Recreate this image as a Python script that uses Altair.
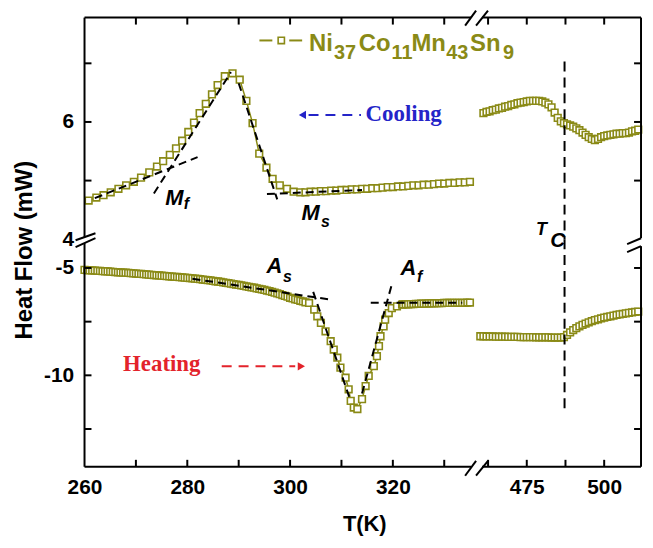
import altair as alt
import pandas as pd

# ---------------- data ----------------
# Cooling curve, low-temperature part (top-left panel)
cool_T_left = [260.8, 262.3, 263.7, 265.1, 266.6, 268.1, 269.6, 271.0, 272.6, 274.1,
               275.3, 276.6, 277.8, 279.0, 280.2, 281.3, 282.4, 283.6, 284.8, 285.9,
               287.3, 288.8, 290.2, 291.5, 292.7, 294.0, 295.4, 296.6, 298.0, 299.4,
               300.7, 302.0, 303.0, 304.0, 305.0, 306.0, 307.0, 308.0, 309.0, 310.0,
               311.0, 312.0, 313.0, 314.0, 315.0, 316.0, 317.0, 318.0, 319.0, 320.0,
               321.0, 322.0, 323.0, 324.0, 325.0, 326.0, 327.0, 328.0, 329.0, 330.0,
               331.0, 332.0, 333.0, 334.0, 335.0]
cool_HF_left = [4.66, 4.71, 4.75, 4.80, 4.86, 4.92, 4.98, 5.05, 5.14, 5.24,
                5.33, 5.44, 5.55, 5.68, 5.83, 5.99, 6.15, 6.31, 6.47, 6.63,
                6.78, 6.83, 6.72, 6.36, 5.98, 5.46, 5.22, 5.03, 4.92, 4.86,
                4.81, 4.80, 4.80, 4.81, 4.81, 4.82, 4.82, 4.83, 4.83, 4.84,
                4.84, 4.85, 4.85, 4.86, 4.86, 4.87, 4.87, 4.88, 4.89, 4.89,
                4.90, 4.90, 4.91, 4.92, 4.92, 4.93, 4.93, 4.94, 4.95, 4.95,
                4.96, 4.96, 4.97, 4.97, 4.98]

# Heating curve, low-temperature part (bottom-left panel)
heat_T_left = [260.0, 260.5, 261.0, 261.5, 262.0, 262.5, 263.0, 263.5, 264.0, 264.5,
               265.0, 265.5, 266.0, 266.5, 267.0, 267.5, 268.0, 268.5, 269.0, 269.5,
               270.0, 270.5, 271.0, 271.5, 272.0, 272.5, 273.0, 273.5, 274.0, 274.5,
               275.0, 275.5, 276.0, 276.5, 277.0, 277.5, 278.0, 278.5, 279.0, 279.5,
               280.0, 280.5, 281.0, 281.5, 282.0, 282.5, 283.0, 283.5, 284.0, 284.5,
               285.0, 285.5, 286.0, 286.5, 287.0, 287.5, 288.0, 288.5, 289.0, 289.5,
               290.0, 290.5, 291.0, 291.5, 292.0, 292.5, 293.0, 293.5, 294.0, 294.5,
               295.0, 295.5, 296.0, 296.5, 297.0, 297.5, 298.0, 298.5, 299.0, 299.5,
               300.0, 300.5, 301.0, 301.5, 302.0, 302.5, 303.0,
               303.7, 304.7, 305.3, 306.0, 306.9, 307.9, 308.5, 309.2, 309.8, 310.8,
               311.4, 311.8, 312.4, 313.1, 314.0, 314.7, 315.3, 316.3, 316.9, 317.3,
               317.6, 318.2, 318.5, 319.2, 319.8, 320.8, 321.8,
               322.0, 322.5, 323.0, 323.5, 324.0, 324.5, 325.0, 325.5, 326.0, 326.5,
               327.0, 327.5, 328.0, 328.5, 329.0, 329.5, 330.0, 330.5, 331.0, 331.5,
               332.0, 332.5, 333.0, 333.5, 334.0, 334.5, 335.0]
heat_HF_left = [-5.09, -5.10, -5.11, -5.11, -5.12, -5.13, -5.14, -5.15, -5.16, -5.16,
                -5.17, -5.18, -5.19, -5.20, -5.21, -5.22, -5.22, -5.23, -5.24, -5.25,
                -5.26, -5.27, -5.28, -5.29, -5.30, -5.31, -5.32, -5.33, -5.34, -5.35,
                -5.36, -5.37, -5.38, -5.39, -5.40, -5.41, -5.42, -5.43, -5.44, -5.45,
                -5.46, -5.47, -5.48, -5.50, -5.51, -5.52, -5.54, -5.55, -5.57, -5.58,
                -5.60, -5.62, -5.63, -5.65, -5.67, -5.69, -5.71, -5.73, -5.75, -5.77,
                -5.79, -5.81, -5.83, -5.86, -5.88, -5.90, -5.92, -5.95, -5.97, -6.00,
                -6.02, -6.05, -6.08, -6.11, -6.15, -6.18, -6.22, -6.26, -6.30, -6.34,
                -6.39, -6.42, -6.46, -6.49, -6.53, -6.56, -6.60,
                -6.63, -6.94, -7.25, -7.56, -7.95, -8.41, -8.80, -9.18, -9.64, -10.11,
                -10.65, -11.19, -11.50, -11.57, -11.11, -10.50, -10.03, -9.57, -9.11, -8.64,
                -8.18, -7.72, -7.41, -7.10, -6.87, -6.79, -6.71,
                -6.70, -6.69, -6.69, -6.68, -6.68, -6.67, -6.67, -6.66, -6.66, -6.66,
                -6.65, -6.65, -6.65, -6.64, -6.64, -6.64, -6.63, -6.63, -6.63, -6.63,
                -6.62, -6.62, -6.62, -6.62, -6.62, -6.61, -6.61]

# Cooling curve near T_C (top-right panel)
cool_T_right = [461, 462, 463, 464, 465, 466, 467, 468, 469, 470,
                471, 472, 473, 474, 475, 476, 477, 478, 479, 480,
                481, 482, 483, 484, 485, 486, 487, 488, 489, 490,
                491, 492, 493, 494, 495, 496, 497, 498, 499, 500,
                501, 502, 503, 504, 505, 506, 507, 508, 509, 510, 511]
cool_HF_right = [6.15, 6.17, 6.18, 6.20, 6.21, 6.23, 6.24, 6.26, 6.27, 6.29,
                 6.30, 6.32, 6.33, 6.34, 6.35, 6.36, 6.36, 6.36, 6.36, 6.35,
                 6.33, 6.30, 6.25, 6.16, 6.07, 6.01, 5.98, 5.96, 5.94, 5.92,
                 5.89, 5.86, 5.82, 5.78, 5.74, 5.71, 5.69, 5.71, 5.74, 5.76,
                 5.77, 5.78, 5.79, 5.80, 5.80, 5.81, 5.81, 5.82, 5.84, 5.85, 5.87]

# Heating curve near T_C (bottom-right panel)
heat_T_right = [460, 461, 462, 463, 464, 465, 466, 467, 468, 469,
                470, 471, 472, 473, 474, 475, 476, 477, 478, 479,
                480, 481, 482, 483, 484, 485, 486, 487, 488, 489,
                490, 491, 492, 493, 494, 495, 496, 497, 498, 499,
                500, 501, 502, 503, 504, 505, 506, 507, 508, 509, 510, 511]
heat_HF_right = [-8.18, -8.18, -8.19, -8.19, -8.19, -8.20, -8.20, -8.20, -8.20, -8.21,
                 -8.21, -8.21, -8.21, -8.22, -8.22, -8.22, -8.22, -8.22, -8.23, -8.23,
                 -8.23, -8.23, -8.23, -8.24, -8.24, -8.24, -8.24, -8.22, -8.12, -8.00,
                 -7.89, -7.80, -7.72, -7.65, -7.59, -7.53, -7.48, -7.43, -7.39, -7.35,
                 -7.31, -7.28, -7.25, -7.22, -7.19, -7.16, -7.14, -7.11, -7.09, -7.07,
                 -7.05, -7.03]

# Tangent construction lines (dashed, black)
tan_cool_seg = ["Mf_base", "Mf_base", "Mf_flank", "Mf_flank", "Ms_flank", "Ms_flank", "Ms_base", "Ms_base"]
tan_cool_T = [262.0, 282.0, 273.5, 288.5, 290.0, 297.5, 295.5, 314.0]
tan_cool_HF = [4.70, 5.40, 4.78, 6.85, 6.66, 4.68, 4.77, 4.84]

tan_heat_seg = ["As_base", "As_base", "As_flank", "As_flank", "Af_flank", "Af_flank", "Af_base", "Af_base"]
tan_heat_T = [281.0, 308.0, 304.5, 311.5, 314.0, 319.7, 315.7, 333.5]
tan_heat_HF = [-5.50, -6.48, -6.11, -11.00, -10.85, -5.85, -6.62, -6.62]

T_curie = 487.2

# axis ticks / labels
x_ticks_left = [270, 280, 290, 300, 310, 320, 330]
x_labels_left = [260, 280, 300, 320]
x_ticks_right = [462.5, 475, 487.5, 500]
x_labels_right = [475, 500]
y_ticks_top = [5, 6, 7]
y_labels_top = [4, 6]
y_ticks_bottom = [-5, -7.5, -10, -12.5]
y_labels_bottom = [-5, -10]

# ---------------- styling ----------------
OLIVE = "#8a8a16"
BLUE = "#2424c8"
RED = "#e3232b"
FONT = "Liberation Sans"
SERIF = "Liberation Serif"

WL, WR, HT, HB = 393, 167, 223, 229
XL, XR = [260, 336], [458.3, 511.9]
YT, YB = [4, 7.78], [-14.26, -3.66]
TICK = 7
one = pd.DataFrame({"k": [0]})


def lab_axis(vals, pad):
    return alt.Axis(values=vals, domain=False, ticks=False, grid=False,
                    labelFont=FONT, labelFontSize=21, labelFontWeight="bold",
                    labelColor="black", labelPadding=pad, labelFlush=False,
                    labelOverlap=False, labelExpr="'' + datum.value")


class Panel:
    def __init__(self, xdom, ydom, W, H, xaxis=None, yaxis=None):
        self.xdom, self.ydom, self.W, self.H = xdom, ydom, W, H
        self.xaxis, self.yaxis = xaxis, yaxis
        self.layers = []

    def X(self):
        return alt.X("T:Q", scale=alt.Scale(domain=self.xdom, nice=False, zero=False),
                     axis=self.xaxis, title=None)

    def Y(self):
        return alt.Y("HF:Q", scale=alt.Scale(domain=self.ydom, nice=False, zero=False),
                     axis=self.yaxis, title=None)

    def series(self, T, HF):
        df = pd.DataFrame({"T": T, "HF": HF})
        self.layers.append(alt.Chart(df).mark_line(color=OLIVE, strokeWidth=1.5)
                           .encode(x=self.X(), y=self.Y()))
        self.layers.append(alt.Chart(df).mark_point(shape="square", size=45, filled=True,
                                                    fill="white", stroke=OLIVE,
                                                    strokeWidth=1.6, opacity=1)
                           .encode(x=self.X(), y=self.Y()))

    def dashed(self, seg, T, HF, color="black", dash=(8, 5), width=2):
        df = pd.DataFrame({"seg": seg, "T": T, "HF": HF})
        self.layers.append(alt.Chart(df).mark_line(color=color, strokeDash=list(dash),
                                                   strokeWidth=width)
                           .encode(x=self.X(), y=self.Y(), detail="seg:N"))

    def marker(self, T, HF, shape, color, size):
        df = pd.DataFrame({"T": [T], "HF": [HF]})
        self.layers.append(alt.Chart(df).mark_point(shape=shape, filled=True, color=color,
                                                    size=size, opacity=1)
                           .encode(x=self.X(), y=self.Y()))

    def text(self, T, HF, s, size, color="black", font=FONT, style="italic",
             align="left", baseline="alphabetic"):
        df = pd.DataFrame({"T": [T], "HF": [HF]})
        self.layers.append(alt.Chart(df).mark_text(text=s, align=align, baseline=baseline,
                                                   font=font, fontSize=size, fontStyle=style,
                                                   fontWeight="bold", color=color)
                           .encode(x=self.X(), y=self.Y()))

    def ptext(self, x, y, s, size, color="black", align="left", baseline="alphabetic", angle=0):
        self.layers.append(alt.Chart(one).mark_text(text=s, align=align, baseline=baseline,
                                                    font=FONT, fontSize=size,
                                                    fontWeight="bold", color=color, angle=angle)
                           .encode(x=alt.value(x), y=alt.value(y)))

    def seg(self, x1, y1, x2, y2, color="black", width=2):
        self.layers.append(alt.Chart(one).mark_rule(color=color, strokeWidth=width)
                           .encode(x=alt.value(x1), y=alt.value(y1),
                                   x2=alt.value(x2), y2=alt.value(y2)))

    def psquare(self, x, y):
        self.layers.append(alt.Chart(one).mark_point(shape="square", size=40, filled=True,
                                                     fill="white", stroke=OLIVE,
                                                     strokeWidth=1.6, opacity=1)
                           .encode(x=alt.value(x), y=alt.value(y)))

    def xticks(self, vals, at_top):
        df = pd.DataFrame({"T": vals})
        y0, y1 = (0, TICK) if at_top else (self.H - TICK, self.H)
        self.layers.append(alt.Chart(df).mark_rule(color="black", strokeWidth=2)
                           .encode(x=self.X(), y=alt.value(y0), y2=alt.value(y1)))

    def yticks(self, vals, at_left):
        df = pd.DataFrame({"HF": vals})
        x0, x1 = (0, TICK) if at_left else (self.W - TICK, self.W)
        self.layers.append(alt.Chart(df).mark_rule(color="black", strokeWidth=2)
                           .encode(y=self.Y(), x=alt.value(x0), x2=alt.value(x1)))

    def chart(self):
        return alt.layer(*self.layers).properties(width=self.W, height=self.H)


# ---------------- top-left: cooling, martensitic transition ----------------
tl = Panel(XL, YT, WL, HT, xaxis=None, yaxis=lab_axis(y_labels_top, 11))
tl.series(cool_T_left, cool_HF_left)
tl.dashed(tan_cool_seg, tan_cool_T, tan_cool_HF)
tl.text(275.7, 4.58, "M", 22)
tl.text(279.3, 4.52, "f", 16)
tl.text(302.2, 4.32, "M", 22)
tl.text(306.0, 4.20, "s", 16)
tl.dashed(["a", "a"], [303.6, 313.8], [6.12, 6.12], color=BLUE, dash=(10, 7), width=2)
tl.marker(302.4, 6.12, "triangle-left", BLUE, 70)
tl.text(314.7, 6.13, "Cooling", 23, color=BLUE, font=SERIF, style="normal", baseline="middle")
# legend
tl.seg(176, 23, 189, 23, color=OLIVE, width=2)
tl.psquare(198, 23)
tl.seg(206, 23, 219, 23, color=OLIVE, width=2)
for x, y, s, fs in [(226, 34, "Ni", 24), (251, 42, "37", 20), (276, 34, "Co", 24),
                    (309, 42, "11", 20), (329, 34, "Mn", 24), (364, 42, "43", 20),
                    (388, 34, "Sn", 24), (421, 42, "9", 20)]:
    tl.ptext(x, y, s, fs, color=OLIVE)
# frame, ticks, breaks
tl.xticks(x_ticks_left, True)
tl.yticks(y_ticks_top, True)
tl.seg(0, 0, 0, 221)
tl.seg(0, 0, 389, 0)
tl.seg(-9, 224, 11, 217)
tl.seg(-9, 231, 11, 222)
tl.seg(383, 8, 394, -7)
tl.seg(394, 8, 406, -7)

# ---------------- top-right: cooling near T_C ----------------
tr = Panel(XR, YT, WR, HT)
tr.series(cool_T_right, cool_HF_right)
tr.dashed(["tc", "tc"], [T_curie, T_curie], [7.03, YT[0]], dash=(10, 6), width=2)
tr.text(478.0, 4.07, "T", 18)
tr.text(482.6, 3.86, "C", 21)
tr.xticks(x_ticks_right, True)
tr.yticks(y_ticks_top, False)
tr.seg(7, 0, WR, 0)
tr.seg(WR, 0, WR, 222)
tr.seg(153, 228, 167, 222)
tr.seg(153, 236, 167, 230)

# ---------------- bottom-left: heating, reverse transition ----------------
bl = Panel(XL, YB, WL, HB, xaxis=lab_axis(x_labels_left, 10), yaxis=lab_axis(y_labels_bottom, 11))
bl.series(heat_T_left, heat_HF_left)
bl.dashed(tan_heat_seg, tan_heat_T, tan_heat_HF)
bl.text(295.4, -5.23, "A", 22)
bl.text(298.6, -5.65, "s", 16)
bl.text(321.5, -5.32, "A", 22)
bl.text(324.7, -5.65, "f", 16)
bl.text(267.5, -9.49, "Heating", 23, color=RED, font=SERIF, style="normal", baseline="middle")
bl.dashed(["a", "a"], [286.7, 301.0], [-9.58, -9.58], color=RED, dash=(10, 7), width=2)
bl.marker(302.2, -9.58, "triangle-right", RED, 70)
bl.ptext(-60, 11, "Heat Flow (mW)", 24, align="center", baseline="middle", angle=270)
bl.ptext(282, 287, "T(K)", 22, align="center", baseline="middle")
bl.xticks(x_ticks_left, False)
bl.yticks(y_ticks_bottom, True)
bl.seg(0, 4, 0, HB)
bl.seg(0, HB, 389, HB)
bl.seg(383, 238, 394, 223)
bl.seg(394, 238, 406, 223)

# ---------------- bottom-right: heating near T_C ----------------
br = Panel(XR, YB, WR, HB, xaxis=lab_axis(x_labels_right, 10))
br.series(heat_T_right, heat_HF_right)
br.dashed(["tc", "tc"], [T_curie, T_curie], [YB[1], -11.57], dash=(10, 6), width=2)
br.xticks(x_ticks_right, False)
br.yticks(y_ticks_bottom, False)
br.seg(7, HB, WR, HB)
br.seg(WR, 7, WR, HB)

chart = (
    alt.concat(tl.chart(), tr.chart(), bl.chart(), br.chart(),
               columns=2, spacing=0, bounds="flush")
    .resolve_scale(x="independent", y="independent")
    .properties(padding={"left": 4, "top": 0, "right": 0, "bottom": 0})
    .configure_view(stroke=None)
)

chart.save("out.html", embed_options={"renderer": "svg", "actions": False})
